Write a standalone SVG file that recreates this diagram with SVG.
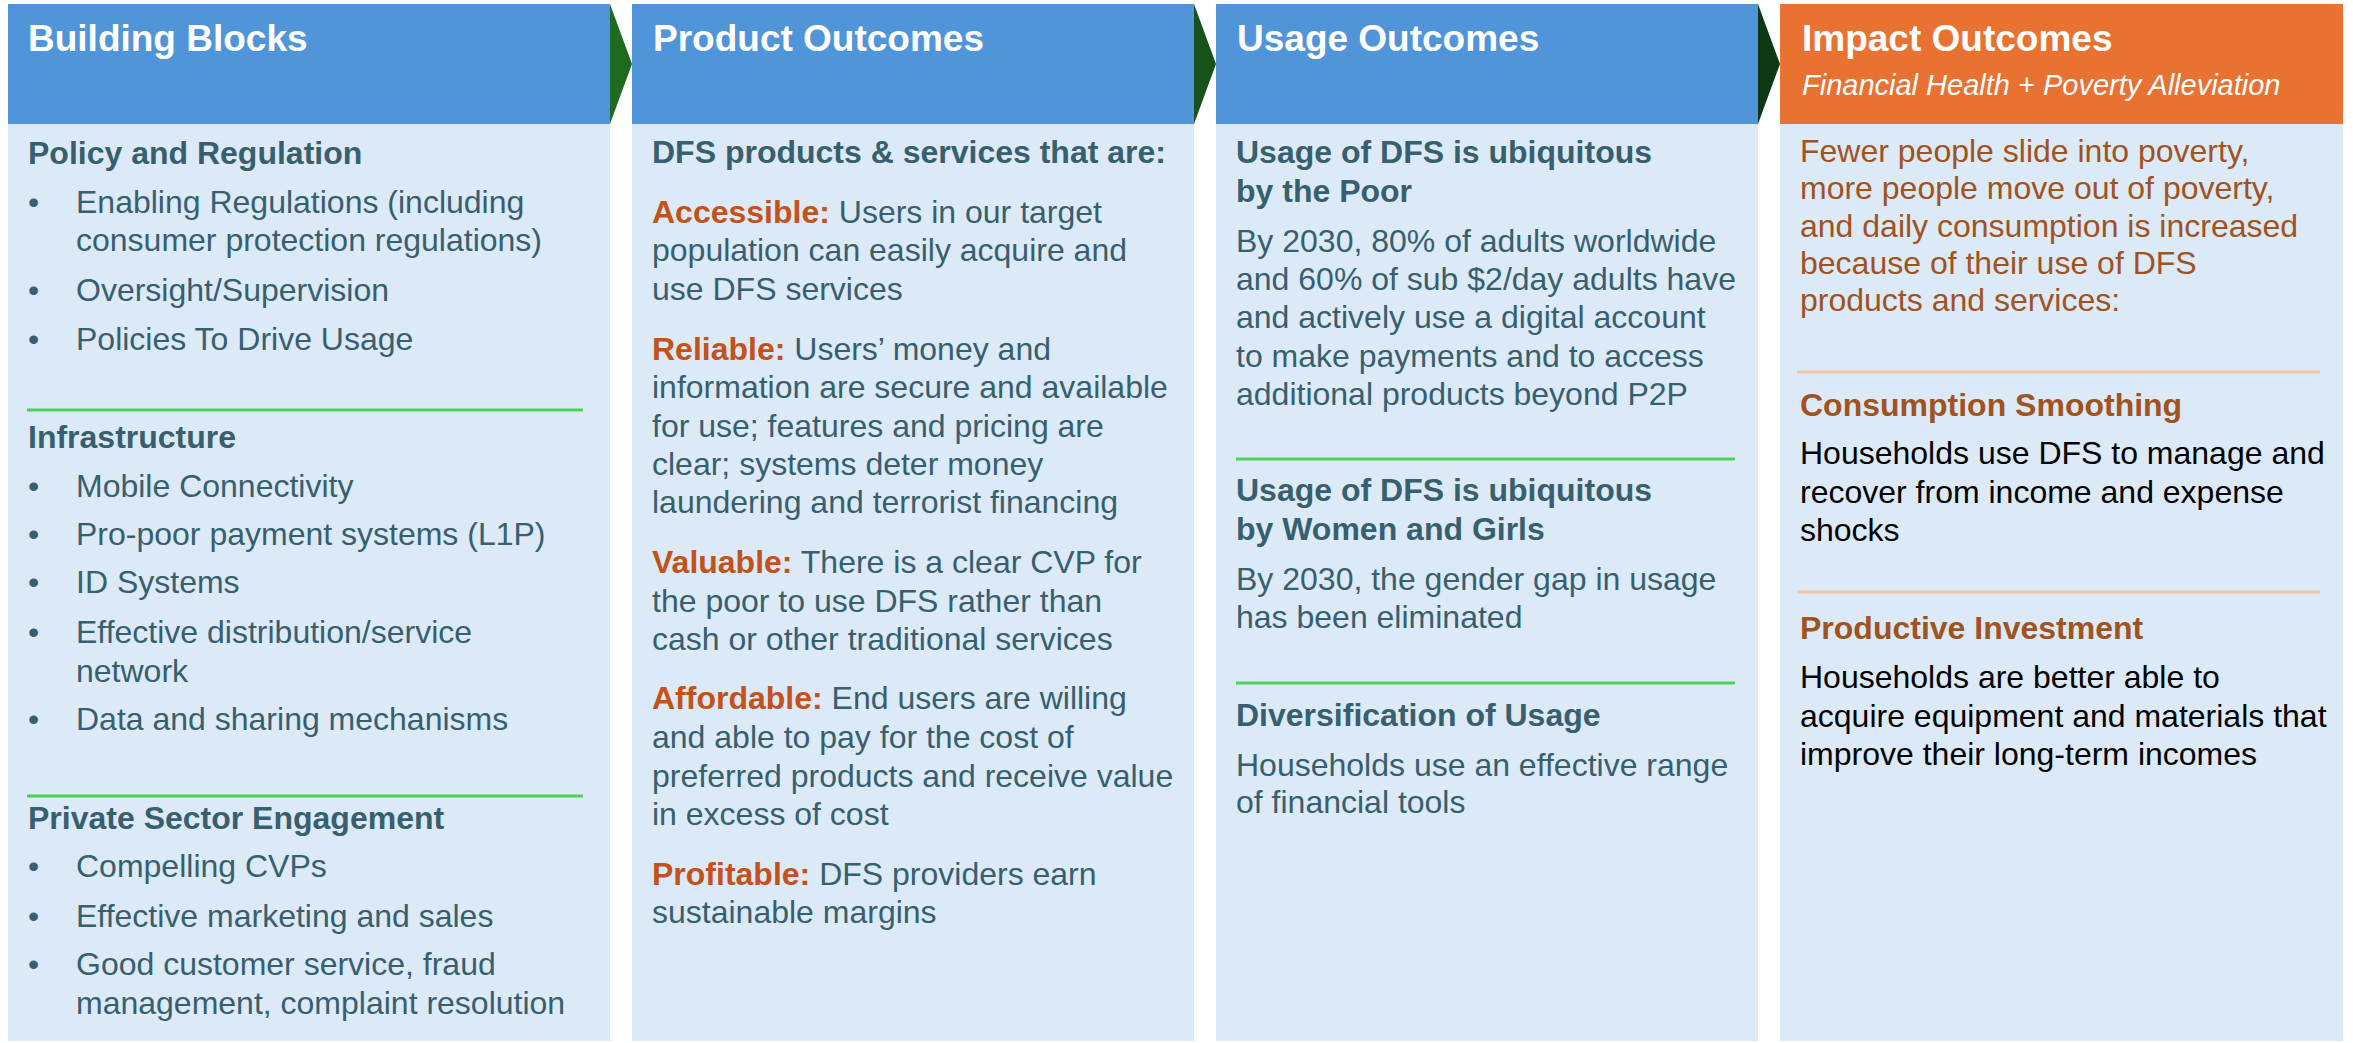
<svg xmlns="http://www.w3.org/2000/svg" width="2353" height="1043" viewBox="0 0 2353 1043">
  <style>
    text { font-family: "Liberation Sans", Arial, Helvetica, sans-serif; }
    .hdr { fill: #5095d9; }
    .hdr-impact { fill: #e97132; }
    .body { fill: #dce9f6; }
    .title { font-size: 37px; font-weight: bold; fill: #ffffff; }
    .subtitle { font-size: 29px; font-style: italic; fill: #ffffff; }
    .head { font-size: 32px; font-weight: bold; fill: #375f6f; }
    .txt { font-size: 32px; fill: #375f6f; }
    .lbl { font-weight: bold; fill: #c4511a; }
    .imp { font-size: 32px; fill: #a0521f; }
    .imp-head { font-size: 32px; font-weight: bold; fill: #a0521f; }
    .blk { font-size: 32px; fill: #000000; }
    .sep-green { stroke: #4dcf5c; stroke-width: 3; }
    .sep-peach { stroke: #f5c4a8; stroke-width: 3; }
  </style>

  <!-- Column 1: Building Blocks -->
  <g id="building-blocks">
    <rect class="hdr" x="8" y="4" width="602" height="120"/>
    <rect class="body" x="8" y="124" width="602" height="917"/>
    <text class="title" x="28" y="51">Building Blocks</text>

    <text class="head" x="28" y="164">Policy and Regulation</text>
    <g class="txt">
      <text x="28" y="213">•</text><text x="76" y="213">Enabling Regulations (including</text>
      <text x="76" y="251">consumer protection regulations)</text>
      <text x="28" y="301">•</text><text x="76" y="301">Oversight/Supervision</text>
      <text x="28" y="350">•</text><text x="76" y="350">Policies To Drive Usage</text>
    </g>
    <line class="sep-green" x1="27" y1="410" x2="583" y2="410"/>

    <text class="head" x="28" y="448">Infrastructure</text>
    <g class="txt">
      <text x="28" y="497">•</text><text x="76" y="497">Mobile Connectivity</text>
      <text x="28" y="545">•</text><text x="76" y="545">Pro-poor payment systems (L1P)</text>
      <text x="28" y="593">•</text><text x="76" y="593">ID Systems</text>
      <text x="28" y="643">•</text><text x="76" y="643">Effective distribution/service</text>
      <text x="76" y="682">network</text>
      <text x="28" y="730">•</text><text x="76" y="730">Data and sharing mechanisms</text>
    </g>
    <line class="sep-green" x1="27" y1="796" x2="583" y2="796"/>

    <text class="head" x="28" y="829">Private Sector Engagement</text>
    <g class="txt">
      <text x="28" y="877">•</text><text x="76" y="877">Compelling CVPs</text>
      <text x="28" y="927">•</text><text x="76" y="927">Effective marketing and sales</text>
      <text x="28" y="975">•</text><text x="76" y="975">Good customer service, fraud</text>
      <text x="76" y="1014">management, complaint resolution</text>
    </g>
  </g>

  <!-- Column 2: Product Outcomes -->
  <g id="product-outcomes">
    <rect class="hdr" x="632" y="4" width="562" height="120"/>
    <rect class="body" x="632" y="124" width="562" height="917"/>
    <text class="title" x="653" y="51">Product Outcomes</text>

    <text class="head" x="652" y="163">DFS products &amp; services that are:</text>
    <g class="txt">
      <text x="652" y="223"><tspan class="lbl">Accessible:</tspan> Users in our target</text>
      <text x="652" y="261">population can easily acquire and</text>
      <text x="652" y="300">use DFS services</text>

      <text x="652" y="360"><tspan class="lbl">Reliable:</tspan> Users’ money and</text>
      <text x="652" y="398">information are secure and available</text>
      <text x="652" y="437">for use; features and pricing are</text>
      <text x="652" y="475">clear; systems deter money</text>
      <text x="652" y="513">laundering and terrorist financing</text>

      <text x="652" y="573"><tspan class="lbl">Valuable:</tspan> There is a clear CVP for</text>
      <text x="652" y="612">the poor to use DFS rather than</text>
      <text x="652" y="650">cash or other traditional services</text>

      <text x="652" y="709"><tspan class="lbl">Affordable:</tspan> End users are willing</text>
      <text x="652" y="748">and able to pay for the cost of</text>
      <text x="652" y="787">preferred products and receive value</text>
      <text x="652" y="825">in excess of cost</text>

      <text x="652" y="885"><tspan class="lbl">Profitable:</tspan> DFS providers earn</text>
      <text x="652" y="923">sustainable margins</text>
    </g>
  </g>

  <!-- Column 3: Usage Outcomes -->
  <g id="usage-outcomes">
    <rect class="hdr" x="1216" y="4" width="542" height="120"/>
    <rect class="body" x="1216" y="124" width="542" height="917"/>
    <text class="title" x="1237" y="51">Usage Outcomes</text>

    <text class="head" x="1236" y="163">Usage of DFS is ubiquitous</text>
    <text class="head" x="1236" y="202">by the Poor</text>
    <g class="txt">
      <text x="1236" y="252">By 2030, 80% of adults worldwide</text>
      <text x="1236" y="290">and 60% of sub $2/day adults have</text>
      <text x="1236" y="328">and actively use a digital account</text>
      <text x="1236" y="367">to make payments and to access</text>
      <text x="1236" y="405">additional products beyond P2P</text>
    </g>
    <line class="sep-green" x1="1236" y1="459" x2="1735" y2="459"/>

    <text class="head" x="1236" y="501">Usage of DFS is ubiquitous</text>
    <text class="head" x="1236" y="540">by Women and Girls</text>
    <g class="txt">
      <text x="1236" y="590">By 2030, the gender gap in usage</text>
      <text x="1236" y="628">has been eliminated</text>
    </g>
    <line class="sep-green" x1="1236" y1="683" x2="1735" y2="683"/>

    <text class="head" x="1236" y="726">Diversification of Usage</text>
    <g class="txt">
      <text x="1236" y="776">Households use an effective range</text>
      <text x="1236" y="813">of financial tools</text>
    </g>
  </g>

  <!-- Column 4: Impact Outcomes -->
  <g id="impact-outcomes">
    <rect class="hdr-impact" x="1780" y="4" width="563" height="120"/>
    <rect class="body" x="1780" y="124" width="563" height="917"/>
    <text class="title" x="1802" y="51">Impact Outcomes</text>
    <text class="subtitle" x="1802" y="95">Financial Health + Poverty Alleviation</text>

    <g class="imp">
      <text x="1800" y="162">Fewer people slide into poverty,</text>
      <text x="1800" y="199">more people move out of poverty,</text>
      <text x="1800" y="237">and daily consumption is increased</text>
      <text x="1800" y="274">because of their use of DFS</text>
      <text x="1800" y="311">products and services:</text>
    </g>
    <line class="sep-peach" x1="1797" y1="372" x2="2320" y2="372"/>

    <text class="imp-head" x="1800" y="416">Consumption Smoothing</text>
    <g class="blk">
      <text x="1800" y="464">Households use DFS to manage and</text>
      <text x="1800" y="503">recover from income and expense</text>
      <text x="1800" y="541">shocks</text>
    </g>
    <line class="sep-peach" x1="1797" y1="592" x2="2320" y2="592"/>

    <text class="imp-head" x="1800" y="639">Productive Investment</text>
    <g class="blk">
      <text x="1800" y="688">Households are better able to</text>
      <text x="1800" y="727">acquire equipment and materials that</text>
      <text x="1800" y="765">improve their long-term incomes</text>
    </g>
  </g>

  <!-- Chevron connectors between stage headers -->
  <g id="connectors">
    <polygon points="610,4 632,64 610,124" fill="#1e6b22"/>
    <polygon points="1194,4 1216,64 1194,124" fill="#17521b"/>
    <polygon points="1758,4 1780,64 1758,124" fill="#0e3814"/>
  </g>
</svg>
